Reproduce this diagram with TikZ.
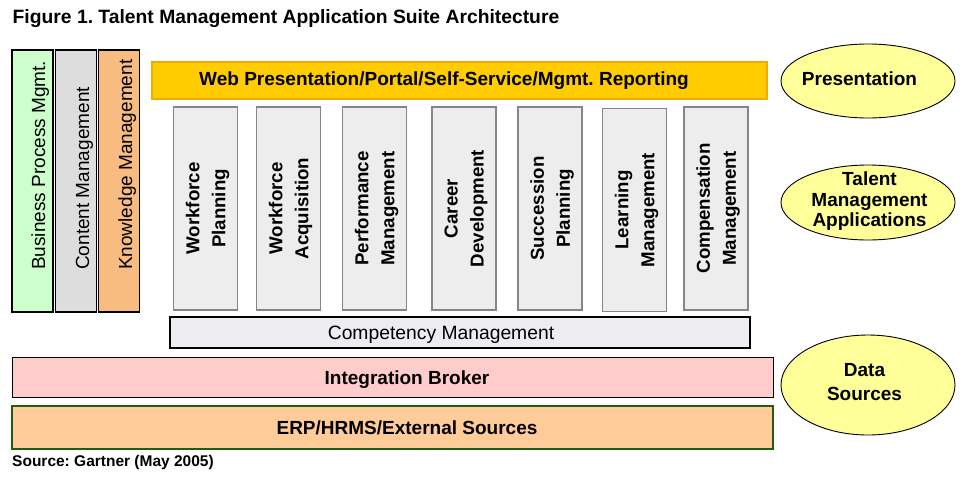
\documentclass[tikz,border=0pt]{standalone}
\usepackage{fontspec}
\setmainfont{Liberation Sans}
\usetikzlibrary{shapes.geometric}
\frenchspacing
\definecolor{bpmgreen}{HTML}{CCFFCC}
\definecolor{cmgray}{HTML}{DDDDDD}
\definecolor{kmorange}{HTML}{F8BC80}
\definecolor{webgold}{HTML}{FFCC00}
\definecolor{webedge}{HTML}{F2A900}
\definecolor{appfill}{HTML}{EDEDED}
\definecolor{appedge}{HTML}{858585}
\definecolor{compfill}{HTML}{EDECF1}
\definecolor{intpink}{HTML}{FFCCCC}
\definecolor{erppeach}{HTML}{FFCC99}
\definecolor{erpedge}{HTML}{1E5E12}
\definecolor{ellyellow}{HTML}{FFFF99}
\tikzset{
  box/.style={rectangle, inner sep=0pt, outer sep=0pt},
  leftbox/.style={box, draw=black, line width=1.3pt, minimum width=41pt, minimum height=262pt},
  leftlabel/.style={rotate=90, anchor=base west, inner sep=0pt, font=\fontsize{19}{22}\selectfont},
  appbox/.style={box, draw=appedge, fill=appfill, line width=1.8pt, minimum width=64pt, minimum height=203pt},
  applabel/.style={rotate=90, align=center, inner sep=0pt, font=\bfseries\fontsize{18.7}{26}\selectfont},
  bandlabel/.style={anchor=base, inner sep=0pt, font=\bfseries\fontsize{19}{22}\selectfont},
  layer/.style={ellipse, draw=black, line width=0.9pt, fill=ellyellow, minimum width=174pt, minimum height=74pt, inner sep=0pt},
  layerlabel/.style={align=center, inner sep=0pt},
}
\begin{document}
\frenchspacing
\begin{tikzpicture}[x=1pt,y=-1pt]
\useasboundingbox[fill=white] (0,0) rectangle (968,480);

% title
\node[anchor=base west, inner sep=0pt, font=\bfseries\fontsize{19.3}{22}\selectfont] (title) at (12.5,23) {Figure 1. Talent Management Application Suite Architecture};

% left vertical boxes
\node[leftbox, fill=bpmgreen] (bpm) at (32.5,181) {};
\node[leftbox, fill=cmgray]   (cm)  at (76,181) {};
\node[leftbox, fill=kmorange] (km)  at (119,181) {};
\node[leftlabel] (bpmt) at (45,270) {Business Process Mgmt.};
\node[leftlabel] (cmt)  at (89,270) {Content Management};
\node[leftlabel] (kmt)  at (132,270) {Knowledge Management};

% web presentation bar
\node[box, draw=webedge, fill=webgold, line width=1.5pt, minimum width=615pt, minimum height=37pt] (web) at (459.5,80.5) {};
\node[bandlabel] (webt) at (444,85) {Web Presentation/Portal/Self-Service/Mgmt. Reporting};

% application boxes
\node[appbox] (wp) at (205.5,208.5) {};
\node[applabel] at ([xshift=2pt]wp.center) {Workforce\\Planning};
\node[appbox] (wa) at (288.5,208.5) {};
\node[applabel] at ([xshift=2pt]wa.center) {Workforce\\Acquisition};
\node[appbox] (pm) at (374.5,208.5) {};
\node[applabel] at ([xshift=2pt]pm.center) {Performance\\Management};
\node[appbox] (cd) at (464,208.5) {};
\node[applabel] at ([xshift=2pt]cd.center) {Career\\Development};
\node[appbox] (sp) at (550,208.5) {};
\node[applabel] at ([xshift=2pt]sp.center) {Succession\\Planning};
\node[appbox] (lm) at (634.5,210) {};
\node[applabel] at ([xshift=2pt]lm.center) {Learning\\Management};
\node[appbox] (cpm) at (716,208.5) {};
\node[applabel] at ([xshift=2pt]cpm.center) {Compensation\\Management};

% competency
\node[box, draw=black, fill=compfill, line width=1.8pt, minimum width=580pt, minimum height=31pt] (comp) at (460,332.5) {};
\node[anchor=base, inner sep=0pt, font=\fontsize{19.3}{22}\selectfont] (compt) at (441,339.5) {Competency Management};

% integration broker
\node[box, draw=black, fill=intpink, line width=0.9pt, minimum width=761pt, minimum height=40pt] (ib) at (392.5,377) {};
\node[bandlabel] (ibt) at (407,384) {Integration Broker};

% ERP
\node[box, draw=erpedge, fill=erppeach, line width=1.8pt, minimum width=761pt, minimum height=43pt] (erp) at (392.5,427.5) {};
\node[bandlabel] (erpt) at (407,434) {ERP/HRMS/External Sources};

% source
\node[anchor=base west, inner sep=0pt, font=\bfseries\fontsize{15.5}{18}\selectfont] (src) at (12,466) {Source: Gartner (May 2005)};

% layer ellipses
\node[layer] (pres) at (868,81) {};
\node[layerlabel, anchor=base, font=\bfseries\fontsize{19}{22}\selectfont] (prest) at (859.5,85) {Presentation};
\node[layer, minimum height=75pt] (tma) at (868,202.5) {};
\node[layerlabel, font=\bfseries\fontsize{19}{20.5}\selectfont] (tmat) at (869.5,201.3) {Talent\\Management\\Applications};
\node[layer, minimum height=100pt] (ds) at (868,385) {};
\node[layerlabel, font=\bfseries\fontsize{19}{24}\selectfont] (dst) at (864.5,382) {Data\\Sources};
\end{tikzpicture}
\end{document}
